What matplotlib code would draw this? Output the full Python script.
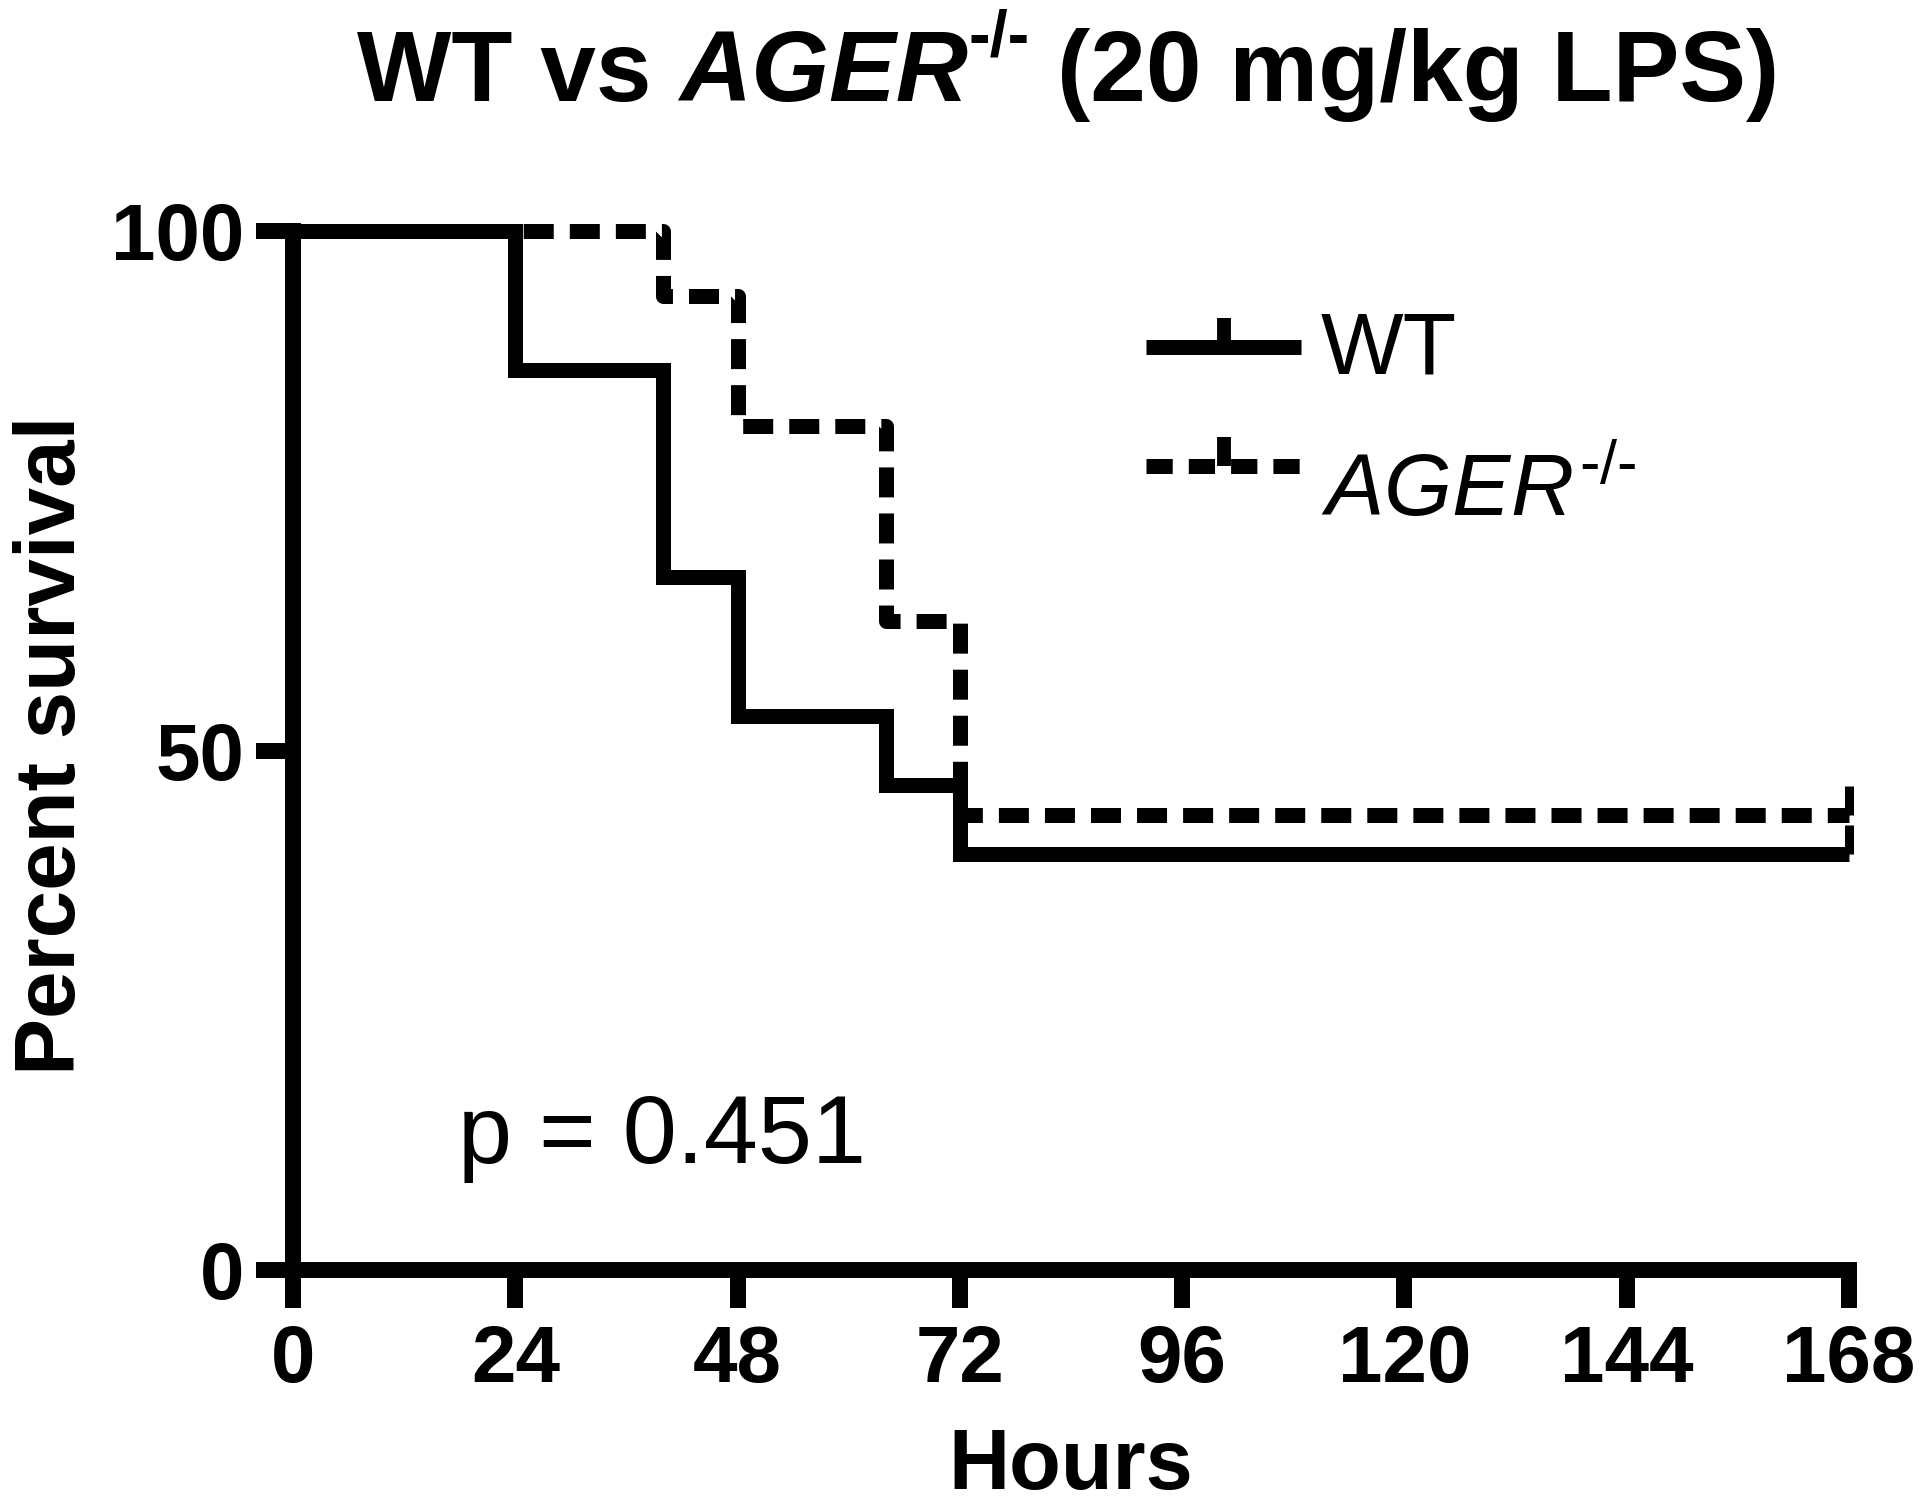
import matplotlib
matplotlib.use("Agg")
import matplotlib.pyplot as plt
from matplotlib.lines import Line2D
from matplotlib.transforms import ScaledTranslation

# fonts: Arial look-alike, mathtext for the italic gene name
plt.rcParams['font.family'] = ['Liberation Sans', 'DejaVu Sans']
plt.rcParams['mathtext.fontset'] = 'custom'
plt.rcParams['mathtext.rm'] = 'Liberation Sans'
plt.rcParams['mathtext.it'] = 'Liberation Sans:italic'
plt.rcParams['mathtext.bf'] = 'Liberation Sans:bold'

# Kaplan-Meier steps (percent survival)
wt_hours = [0, 24, 40, 48, 64, 72, 168]
wt_surv = [100, 86.67, 66.67, 53.33, 46.67, 40.0, 40.0]
ager_hours = [0, 40, 48, 64, 72, 168]
ager_surv = [100, 93.75, 81.25, 62.5, 43.75, 43.75]

# censored animals (end of study)
wt_cens_hours = [168]
wt_cens_surv = [40.0]
ager_cens_hours = [168]
ager_cens_surv = [43.75]

x_ticks = [0, 24, 48, 72, 96, 120, 144, 168]
y_ticks = [0, 50, 100]
p_text = "p = 0.451"
legend_labels = ["WT", r"$\mathit{AGER}^{\text{-/-}}$"]
# title pieces: (text, style, superscript?)
title_parts = [("WT vs", 'normal', False), ("AGER", 'italic', False),
               ("-/-", 'normal', True), ("(20 mg/kg LPS)", 'normal', False)]

LW = 10.8
SPINE_LW = 11.5
DASH = (0, (2.0, 1.07))
TITLE_FS = 72

fig = plt.figure(figsize=(19.2, 15.09), dpi=100)
ax = fig.add_axes([0.1526, 0.1584, 0.8104, 0.6885])

ax.step(wt_hours, wt_surv, where='post', color='k', lw=LW,
        solid_capstyle='butt', solid_joinstyle='miter', clip_on=False, zorder=3)
ax.step(ager_hours, ager_surv, where='post', color='k', lw=LW, linestyle=DASH,
        dash_capstyle='butt', solid_joinstyle='miter', clip_on=False, zorder=3)
ax.plot(wt_cens_hours, wt_cens_surv, linestyle='none', marker=2, ms=21, mew=6.5,
        color='k', clip_on=False, zorder=4)
ax.plot(ager_cens_hours, ager_cens_surv, linestyle='none', marker=2, ms=21, mew=6.5,
        color='k', clip_on=False, zorder=4)

ax.set_xlim(0, 168)
ax.set_ylim(0, 100)
ax.set_xticks(x_ticks)
ax.set_yticks(y_ticks)
ax.set_xticklabels([str(t) for t in x_ticks])
ax.set_yticklabels([str(t) for t in y_ticks])

for s in ['top', 'right']:
    ax.spines[s].set_visible(False)
for s in ['left', 'bottom']:
    ax.spines[s].set_linewidth(SPINE_LW)
    ax.spines[s].set_capstyle('projecting')

ax.tick_params(axis='both', direction='out', length=27, width=SPINE_LW,
               labelsize=57.6, colors='k')
ax.tick_params(axis='x', pad=12)
ax.tick_params(axis='y', pad=8)
for lab in ax.get_xticklabels() + ax.get_yticklabels():
    lab.set_fontweight('bold')

ax.set_xlabel("Hours", fontsize=61, fontweight='bold')
ax.set_ylabel("Percent survival", fontsize=61.5, fontweight='bold')
ax.xaxis.set_label_coords(0.5, -0.151)
ax.yaxis.set_label_coords(-0.1285, 0.505)

# title built from pieces so the superscript keeps plain hyphens
renderer = fig.canvas.get_renderer()
title_y = 1 - 101 / 1509
space_px = 0.278 * TITLE_FS * 100 / 72
pieces = []
for txt, style, sup in title_parts:
    fs = TITLE_FS * 0.65 if sup else TITLE_FS
    t = fig.text(0, title_y, txt, fontsize=fs, fontweight='bold', fontstyle=style,
                 ha='left', va='baseline')
    w = t.get_window_extent(renderer).width
    pieces.append((t, w, sup))
total = 0
for i, (t, w, sup) in enumerate(pieces):
    total += w
    if i < len(pieces) - 1 and not pieces[i + 1][2]:
        total += space_px
x_px = 0.5563 * 1920 - total / 2
for i, (t, w, sup) in enumerate(pieces):
    y = title_y + (45 / 1509 if sup else 0)
    t.set_position((x_px / 1920, y))
    x_px += w
    if i < len(pieces) - 1 and not pieces[i + 1][2]:
        x_px += space_px

ax.text(17.8, 10.3, p_text, fontsize=70, ha='left', va='baseline')

# legend
h_wt = Line2D([], [], color='k', lw=LW, solid_capstyle='butt',
              marker=2, ms=21, mew=10)
h_ager = Line2D([], [], color='k', lw=LW, linestyle=(0, (1.75, 1.07)),
                dash_capstyle='butt', marker=2, ms=21, mew=10)
leg = ax.legend([h_wt, h_ager], legend_labels,
                loc='upper left', bbox_to_anchor=(0.548, 0.92), frameon=False,
                fontsize=63, handlelength=1.78, handletextpad=0.22, numpoints=1,
                borderpad=0, borderaxespad=0, labelspacing=0.44)
shifts = [4, -19]
for t, dy in zip(leg.get_texts(), shifts):
    t.set_transform(t.get_transform() + ScaledTranslation(0, dy / 100, fig.dpi_scale_trans))

plt.savefig("out.png", dpi=100)
